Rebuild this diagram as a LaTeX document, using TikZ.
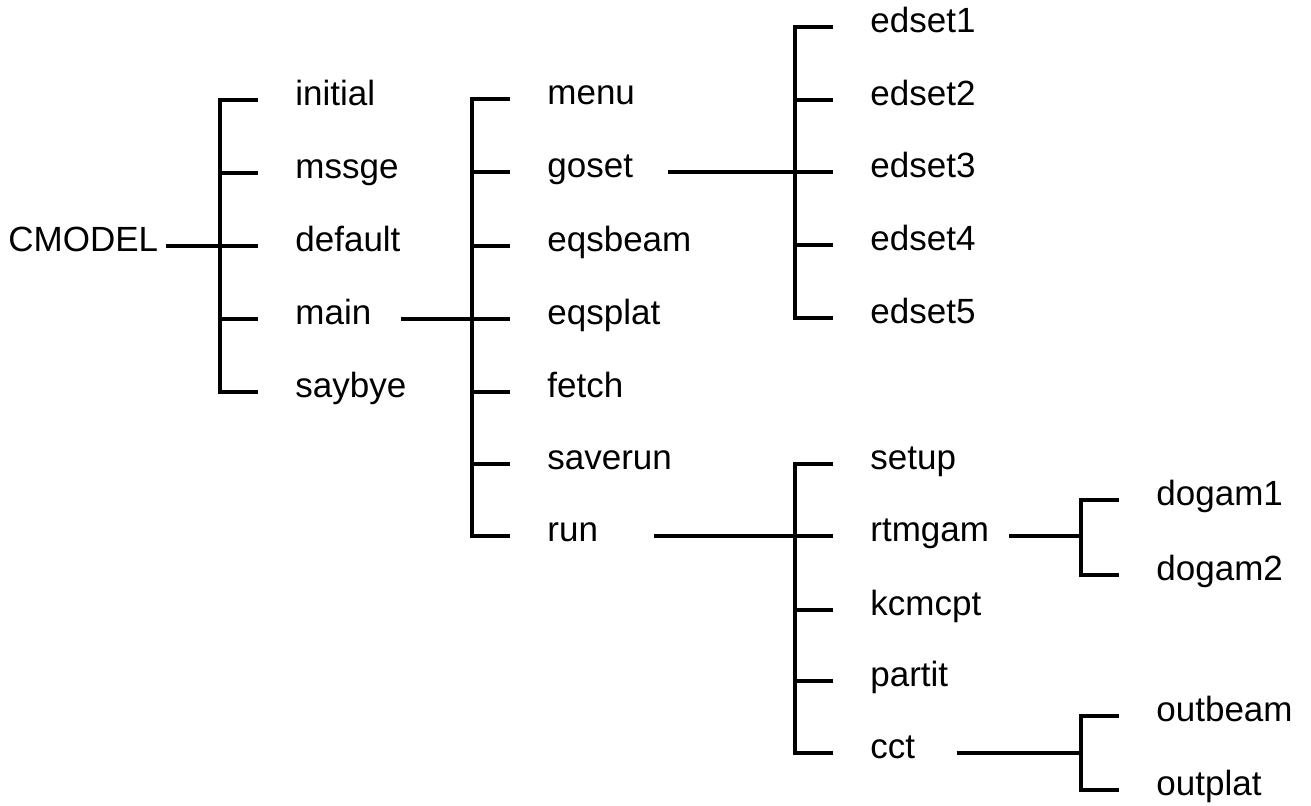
\documentclass[tikz,border=0pt]{standalone}
\usepackage{fontspec}
\setmainfont{Liberation Sans}
\usepackage{tikz}

\tikzset{
  lbl/.style={anchor=mid west, inner sep=0pt, font=\fontsize{17.5}{21}\selectfont},
  link/.style={line width=1.9pt, line join=miter},
}

\begin{document}
\begin{tikzpicture}[x=0.5pt,y=-0.5pt]
  \useasboundingbox (0,0) rectangle (1311,806);

  % labels
  \node[lbl] (cmodel) at (8,246) {CMODEL};
  \foreach \n/\y in {initial/100,mssge/173,default/246,main/319,saybye/392}
    \node[lbl] (\n) at (295,\y) {\n};
  \foreach \n/\y in {menu/99,goset/172,eqsbeam/246,eqsplat/319,fetch/392,saverun/464,run/536}
    \node[lbl] (\n) at (547,\y) {\n};
  \foreach \n/\y in {edset1/27,edset2/100,edset3/172,edset4/245,edset5/318}
    \node[lbl] (\n) at (870,\y) {\n};
  \foreach \n/\y in {setup/464,rtmgam/536,kcmcpt/610,partit/681,cct/753}
    \node[lbl] (\n) at (870,\y) {\n};
  \foreach \n/\y in {dogam1/500,dogam2/575,outbeam/716,outplat/790}
    \node[lbl] (\n) at (1156,\y) {\n};

  % spines
  \coordinate (s1) at ([xshift=-37.5pt]initial.mid west);
  \coordinate (s2) at ([xshift=-37.5pt]menu.mid west);
  \coordinate (s3) at ([xshift=-37.5pt]edset1.mid west);
  \coordinate (s4) at ([xshift=-37.5pt]setup.mid west);
  \coordinate (s5) at ([xshift=-37.5pt]dogam1.mid west);
  \coordinate (s6) at ([xshift=-37.5pt]outbeam.mid west);

  % brackets
  \draw[link] ([xshift=-18.5pt]initial.mid west) -- (s1) -- (s1 |- saybye.mid west) -- ([xshift=-18.5pt]saybye.mid west);
  \foreach \n in {mssge,default,main}
    \draw[link] (s1 |- \n.mid west) -- ([xshift=-18.5pt]\n.mid west);
  \draw[link] ([xshift=-18.5pt]menu.mid west) -- (s2) -- (s2 |- run.mid west) -- ([xshift=-18.5pt]run.mid west);
  \foreach \n in {goset,eqsbeam,eqsplat,fetch,saverun}
    \draw[link] (s2 |- \n.mid west) -- ([xshift=-18.5pt]\n.mid west);
  \draw[link] ([xshift=-18.5pt]edset1.mid west) -- (s3) -- (s3 |- edset5.mid west) -- ([xshift=-18.5pt]edset5.mid west);
  \foreach \n in {edset2,edset3,edset4}
    \draw[link] (s3 |- \n.mid west) -- ([xshift=-18.5pt]\n.mid west);
  \draw[link] ([xshift=-18.5pt]setup.mid west) -- (s4) -- (s4 |- cct.mid west) -- ([xshift=-18.5pt]cct.mid west);
  \foreach \n in {rtmgam,kcmcpt,partit}
    \draw[link] (s4 |- \n.mid west) -- ([xshift=-18.5pt]\n.mid west);
  \draw[link] ([xshift=-18.5pt]dogam1.mid west) -- (s5) -- (s5 |- dogam2.mid west) -- ([xshift=-18.5pt]dogam2.mid west);
  \draw[link] ([xshift=-18.5pt]outbeam.mid west) -- (s6) -- (s6 |- outplat.mid west) -- ([xshift=-18.5pt]outplat.mid west);

  % calls
  \draw[link] ([xshift=3.5pt]cmodel.mid east) -- (s1 |- cmodel.mid east);
  \draw[link] ([xshift=14.5pt]main.mid east) -- (s2 |- main.mid east);
  \draw[link] ([xshift=17.5pt]goset.mid east) -- (s3 |- goset.mid east);
  \draw[link] ([xshift=28pt]run.mid east) -- (s4 |- run.mid east);
  \draw[link] ([xshift=10pt]rtmgam.mid east) -- (s5 |- rtmgam.mid east);
  \draw[link] ([xshift=20.5pt]cct.mid east) -- (s6 |- cct.mid east);
\end{tikzpicture}
\end{document}
